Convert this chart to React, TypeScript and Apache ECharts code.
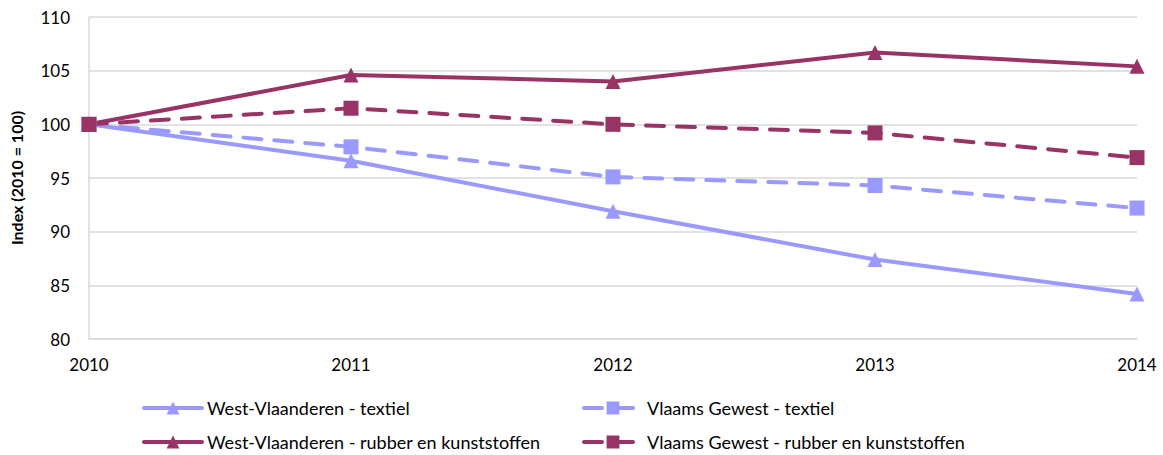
import React, { useEffect, useRef } from "react";
import * as echarts from "echarts";

const years = ["2010", "2011", "2012", "2013", "2014"];
const wvTextiel = [100, 96.6, 91.9, 87.4, 84.2];
const vgTextiel = [100, 97.9, 95.1, 94.3, 92.2];
const wvRubber = [100, 104.6, 104.0, 106.7, 105.4];
const vgRubber = [100, 101.5, 100.0, 99.2, 96.9];

const names = [
  "West-Vlaanderen - textiel",
  "Vlaams Gewest - textiel",
  "West-Vlaanderen - rubber en kunststoffen",
  "Vlaams Gewest - rubber en kunststoffen",
];

const LIGHT = "#9999FF";
const DARK = "#993366";
const FONT = "Lato";

export default function App() {
  const ref = useRef<HTMLDivElement>(null);
  useEffect(() => {
    if (!ref.current) return;
    const chart = echarts.init(ref.current, null, { renderer: "svg" });
    const mk = (name: string, data: number[], color: string, dashed: boolean, symbol: string, size: number) => ({
      name,
      type: "line",
      data,
      symbol,
      symbolSize: size,
      lineStyle: { color, width: 4, type: dashed ? [18, 13] : "solid", cap: "round" },
      itemStyle: { color },
    });
    const legendPos = [
      { left: 142, top: 399 },
      { left: 582, top: 399 },
      { left: 142, top: 433 },
      { left: 582, top: 433 },
    ];
    chart.setOption({
      animation: false,
      backgroundColor: "#fff",
      grid: { left: 88, right: 26, top: 17, bottom: 116 },
      legend: names.map((n, i) => ({
        data: [n],
        left: legendPos[i].left,
        top: legendPos[i].top,
        padding: 0,
        itemWidth: 58,
        itemHeight: 16,
        itemGap: 8,
        lineStyle: { width: 4 },
        textStyle: { fontFamily: FONT, fontSize: 18, color: "#000", letterSpacing: 0.8 },
      })),
      xAxis: {
        type: "category",
        data: years,
        boundaryGap: false,
        axisLine: { lineStyle: { color: "#d9d9d9", width: 1.5 } },
        axisTick: { show: false },
        axisLabel: { fontFamily: FONT, fontSize: 17, color: "#000", margin: 17 },
      },
      yAxis: {
        type: "value",
        min: 80,
        max: 110,
        interval: 5,
        name: "Index (2010 = 100)",
        nameLocation: "middle",
        nameGap: 65,
        nameTextStyle: { fontFamily: FONT, fontSize: 16, fontWeight: "bold", color: "#000" },
        axisLine: { show: true, lineStyle: { color: "#d9d9d9", width: 1.5 } },
        axisTick: { show: false },
        splitLine: { lineStyle: { color: "#d9d9d9", width: 1.5 } },
        axisLabel: { fontFamily: FONT, fontSize: 17, color: "#000", margin: 19 },
      },
      series: [
        mk(names[0], wvTextiel, LIGHT, false, "triangle", 15),
        mk(names[1], vgTextiel, LIGHT, true, "rect", 15),
        mk(names[2], wvRubber, DARK, false, "triangle", 15),
        mk(names[3], vgRubber, DARK, true, "rect", 15),
      ],
    });
    return () => chart.dispose();
  }, []);
  return <div ref={ref} style={{ width: 1163, height: 455, position: "absolute", left: 0, top: 0 }} />;
}
